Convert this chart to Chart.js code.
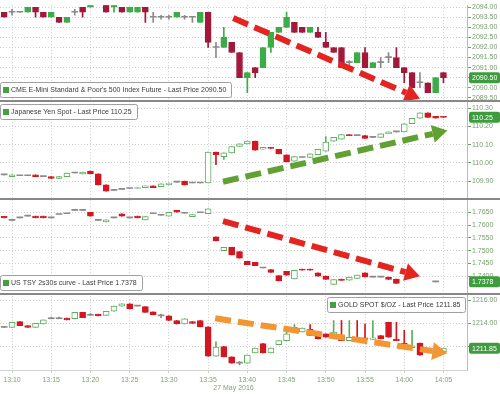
<!DOCTYPE html>
<html>
<head>
<meta charset="utf-8">
<script src="https://cdn.jsdelivr.net/npm/chart.js@4.4.1/dist/chart.umd.min.js"></script>
<style>
  html, body { margin: 0; padding: 0; background: #fff; }
</style>
</head>
<body>
<canvas id="canvas" width="500" height="395"></canvas>
<script>
// one-minute bars, 27 May 2016, four stacked panels sharing the time axis

const times = ['13:09','13:10','13:11','13:12','13:13','13:14','13:15','13:16','13:17','13:18',
  '13:19','13:20','13:21','13:22','13:23','13:24','13:25','13:26','13:27','13:28',
  '13:29','13:30','13:31','13:32','13:33','13:34','13:35','13:36','13:37','13:38',
  '13:39','13:40','13:41','13:42','13:43','13:44','13:45','13:46','13:47','13:48',
  '13:49','13:50','13:51','13:52','13:53','13:54','13:55','13:56','13:57','13:58',
  '13:59','14:00','14:01','14:02','14:03','14:04','14:05'];

const xTickLabels = ['13:10','13:15','13:20','13:25','13:30','13:35','13:40','13:45','13:50','13:55','14:00','14:05'];

const spxTicks = ['2089.50','2090.00','2090.50','2091.00','2091.50','2092.00','2092.50','2093.00','2093.50','2094.00'];
const jpyTicks = ['109.90','110.00','110.10','110.20','110.30'];
const tsyTicks = ['1.7400','1.7450','1.7500','1.7550','1.7600','1.7650'];
const xauTicks = ['1212.00','1214.00','1216.00'];

// [open, high, low, close]
const spx = [
  [2093.75,2093.75,2093.50,2093.50],[2093.75,2093.90,2093.60,2093.75],[2093.75,2093.75,2093.75,2093.75],
  [2093.75,2094.00,2093.75,2094.00],[2094.00,2094.00,2093.50,2093.75],[2093.75,2093.75,2093.50,2093.50],
  [2093.50,2093.75,2093.50,2093.75],[2093.50,2093.50,2093.25,2093.25],[2093.25,2093.50,2093.25,2093.50],
  [2093.75,2093.90,2093.60,2093.75],[2094.00,2094.00,2093.50,2093.75],[2094.00,2094.25,2094.00,2094.25],
  [2094.50,2094.50,2094.25,2094.25],[2094.25,2094.25,2093.75,2093.75],[2094.00,2094.25,2093.75,2094.25],
  [2094.00,2094.00,2093.75,2093.75],[2093.75,2094.00,2093.75,2094.00],[2093.75,2094.00,2093.75,2094.00],
  [2094.00,2094.00,2093.25,2093.75],[2093.50,2093.75,2093.25,2093.50],[2093.50,2093.60,2093.40,2093.50],
  [2093.50,2093.60,2093.40,2093.50],[2093.50,2093.75,2093.50,2093.75],[2093.50,2093.60,2093.40,2093.50],
  [2093.50,2093.50,2093.25,2093.50],[2093.25,2093.75,2093.25,2093.75],[2093.75,2093.75,2092.00,2092.25],
  [2092.00,2092.25,2091.50,2092.00],[2092.00,2093.00,2092.00,2092.50],[2092.25,2092.25,2091.75,2091.75],
  [2091.75,2091.75,2090.50,2090.50],[2090.50,2090.75,2089.75,2090.75],[2091.00,2091.00,2090.50,2090.75],
  [2091.00,2092.00,2091.00,2092.00],[2092.00,2092.75,2091.75,2092.75],[2092.75,2093.00,2092.75,2093.00],
  [2093.00,2093.75,2093.00,2093.50],[2093.25,2093.25,2092.75,2092.75],[2093.00,2093.00,2092.75,2092.75],
  [2092.75,2093.00,2092.75,2093.00],[2092.75,2093.00,2092.50,2092.50],[2092.25,2092.75,2092.00,2092.00],
  [2092.00,2092.00,2091.75,2091.75],[2092.00,2092.00,2091.00,2091.00],[2091.25,2091.35,2091.15,2091.25],
  [2091.25,2091.75,2091.25,2091.75],[2091.75,2092.00,2091.00,2091.00],[2091.00,2091.25,2091.00,2091.25],
  [2091.25,2091.50,2091.00,2091.25],[2091.50,2091.75,2091.25,2091.50],[2091.50,2092.00,2091.00,2091.00],
  [2091.00,2091.00,2090.25,2090.75],[2090.75,2090.75,2090.00,2090.00],[2090.25,2090.75,2090.00,2090.25],
  [2090.25,2090.25,2089.75,2089.75],[2089.75,2090.50,2089.75,2090.50],[2090.75,2090.75,2090.25,2090.50]
];

const jpy = [
  [109.935,109.935,109.935,109.935],[109.925,109.935,109.925,109.935],[109.930,109.930,109.930,109.930],
  [109.930,109.930,109.930,109.930],[109.935,109.935,109.925,109.925],[109.925,109.925,109.925,109.925],
  [109.925,109.925,109.915,109.915],[109.915,109.925,109.915,109.925],[109.925,109.945,109.925,109.945],
  [109.945,109.945,109.945,109.945],[109.940,109.950,109.940,109.950],[109.955,109.955,109.940,109.940],
  [109.940,109.940,109.880,109.880],[109.880,109.880,109.845,109.845],[109.850,109.850,109.850,109.850],
  [109.855,109.855,109.855,109.855],[109.860,109.860,109.860,109.860],[109.860,109.865,109.860,109.865],
  [109.865,109.875,109.865,109.875],[109.875,109.875,109.865,109.865],[109.870,109.885,109.870,109.885],
  [109.880,109.890,109.880,109.890],[109.895,109.895,109.895,109.895],[109.900,109.900,109.880,109.880],
  [109.890,109.890,109.890,109.890],[109.890,109.890,109.890,109.890],[109.890,110.060,109.890,110.060],
  [110.060,110.060,109.990,110.045],[110.035,110.055,110.020,110.055],[110.055,110.090,110.055,110.090],
  [110.090,110.105,110.090,110.105],[110.105,110.120,110.105,110.120],[110.120,110.120,110.070,110.070],
  [110.075,110.085,110.075,110.085],[110.085,110.085,110.080,110.080],[110.075,110.075,110.050,110.050],
  [110.045,110.045,110.005,110.005],[110.010,110.035,110.010,110.035],[110.030,110.030,110.030,110.030],
  [110.030,110.050,110.030,110.050],[110.045,110.075,110.045,110.075],[110.065,110.145,110.065,110.115],
  [110.120,110.140,110.120,110.140],[110.130,110.155,110.130,110.155],[110.155,110.155,110.150,110.150],
  [110.150,110.150,110.150,110.150],[110.150,110.150,110.135,110.135],[110.140,110.140,110.140,110.140],
  [110.140,110.160,110.140,110.160],[110.160,110.170,110.160,110.170],[110.170,110.170,110.170,110.170],
  [110.170,110.215,110.170,110.215],[110.215,110.245,110.215,110.245],[110.245,110.275,110.245,110.275],
  [110.275,110.275,110.250,110.250],[110.255,110.255,110.245,110.245],[110.255,110.255,110.250,110.250]
];

const tsy = [
  [1.7634,1.7634,1.7628,1.7628],[1.7618,1.7618,1.7618,1.7618],[1.7628,1.7628,1.7628,1.7628],
  [1.7635,1.7635,1.7635,1.7635],[1.7635,1.7635,1.7628,1.7628],[1.7635,1.7635,1.7628,1.7628],
  [1.7628,1.7628,1.7628,1.7628],[1.7641,1.7641,1.7641,1.7641],[1.7644,1.7644,1.7644,1.7644],
  [1.7657,1.7657,1.7657,1.7657],[1.7657,1.7657,1.7657,1.7657],[1.7650,1.7650,1.7635,1.7635],
  [1.7618,1.7618,1.7618,1.7618],[1.7612,1.7620,1.7612,1.7620],[1.7628,1.7628,1.7628,1.7628],
  [1.7644,1.7644,1.7635,1.7635],[1.7628,1.7628,1.7628,1.7628],[1.7635,1.7635,1.7628,1.7628],
  [1.7620,1.7633,1.7620,1.7633],[1.7644,1.7644,1.7644,1.7644],[1.7638,1.7638,1.7638,1.7638],
  [1.7635,1.7650,1.7635,1.7650],[1.7657,1.7657,1.7650,1.7650],[1.7646,1.7646,1.7646,1.7646],
  [1.7633,1.7641,1.7633,1.7641],[1.7648,1.7648,1.7648,1.7648],[1.7644,1.7663,1.7644,1.7663],
  [1.7554,1.7554,1.7538,1.7538],[1.7500,1.7513,1.7500,1.7513],[1.7513,1.7513,1.7483,1.7483],
  [1.7496,1.7496,1.7470,1.7470],[1.7458,1.7458,1.7445,1.7445],[1.7454,1.7454,1.7441,1.7441],
  [1.7432,1.7432,1.7432,1.7432],[1.7426,1.7426,1.7415,1.7415],[1.7402,1.7402,1.7381,1.7381],
  [1.7419,1.7419,1.7404,1.7404],[1.7389,1.7423,1.7389,1.7423],[1.7428,1.7428,1.7423,1.7423],
  [1.7428,1.7428,1.7423,1.7423],[1.7413,1.7413,1.7400,1.7400],[1.7400,1.7400,1.7387,1.7387],
  [1.7368,1.7387,1.7368,1.7387],[1.7389,1.7389,1.7383,1.7383],[1.7384,1.7396,1.7384,1.7396],
  [1.7391,1.7404,1.7391,1.7404],[1.7413,1.7413,1.7397,1.7397],[1.7396,1.7396,1.7396,1.7396],
  [1.7396,1.7396,1.7396,1.7396],[1.7396,1.7396,1.7387,1.7387],[1.7389,1.7389,1.7372,1.7372],
  null, null, null, null, [1.7378,1.7378,1.7378,1.7378], null
];

const xau = [
  [1213.65,1213.65,1213.65,1213.65],[1213.65,1214.10,1213.65,1214.10],[1214.15,1214.15,1213.80,1213.80],
  [1213.80,1213.80,1213.65,1213.65],[1213.65,1214.00,1213.65,1214.00],[1213.95,1214.30,1213.95,1214.30],
  [1214.40,1214.55,1214.40,1214.40],[1214.40,1214.55,1214.40,1214.40],[1214.45,1214.45,1214.30,1214.30],
  [1214.40,1214.95,1214.40,1214.95],[1214.95,1214.95,1214.50,1214.50],[1214.70,1214.85,1214.70,1214.70],
  [1214.80,1214.80,1214.65,1214.65],[1214.70,1215.05,1214.70,1215.05],[1215.05,1215.50,1215.05,1215.50],
  [1215.50,1215.70,1215.50,1215.70],[1215.70,1215.70,1215.25,1215.25],[1215.50,1215.50,1215.50,1215.50],
  [1215.45,1215.45,1214.95,1214.95],[1215.00,1215.00,1214.75,1214.75],[1214.65,1214.80,1214.50,1214.65],
  [1214.65,1214.65,1214.25,1214.25],[1214.25,1214.25,1213.95,1213.95],[1213.95,1214.40,1213.95,1214.40],
  [1214.15,1214.15,1214.00,1214.00],[1214.25,1214.25,1213.70,1213.70],[1213.70,1213.70,1211.15,1211.15],
  [1211.15,1212.40,1211.15,1211.95],[1212.00,1212.00,1211.10,1211.10],[1211.10,1211.10,1210.55,1210.55],
  [1210.55,1210.70,1210.40,1210.55],[1210.55,1211.25,1210.55,1211.25],[1211.45,1211.85,1211.45,1211.85],
  [1212.25,1212.25,1211.45,1211.45],[1211.45,1211.85,1211.45,1211.85],[1212.15,1212.50,1212.15,1212.50],
  [1212.50,1213.70,1212.50,1213.10],[1213.25,1213.90,1213.25,1213.65],[1213.25,1213.60,1213.25,1213.60],
  [1213.50,1213.90,1212.95,1212.95],[1213.10,1213.10,1212.65,1212.65],[1213.10,1213.10,1212.80,1212.80],
  [1212.95,1214.25,1212.95,1213.25],[1212.95,1214.25,1212.50,1212.50],[1212.50,1214.25,1212.50,1212.80],
  [1212.80,1214.25,1212.60,1212.60],[1212.75,1213.95,1212.60,1212.60],[1212.60,1214.25,1212.60,1212.75],
  [1212.95,1212.95,1212.65,1212.65],[1214.10,1214.10,1212.80,1212.80],[1212.65,1214.10,1212.50,1212.50],
  [1212.30,1213.40,1211.85,1211.85],[1211.90,1213.40,1211.90,1212.05],[1212.30,1212.30,1211.25,1211.25],
  [1211.50,1211.80,1211.50,1211.80],[1211.40,1211.65,1211.40,1211.65],[1211.55,1211.85,1211.55,1211.85]
];

// hand-drawn trend arrows: [minutes after 13:00, price]
const arrows = [
  { axis: 'y1', from: [38.2, 2093.46], to: [62.0, 2089.45], color: '#e3241f' },
  { axis: 'y2', from: [36.9, 109.897], to: [65.5, 110.178], color: '#61a032' },
  { axis: 'y3', from: [36.9, 1.7615], to: [62.0, 1.7400], color: '#e3241f' },
  { axis: 'y4', from: [35.9, 1214.44], to: [65.5, 1211.41], color: '#f29633' }
];

const toMin = t => { const [h, m] = t.split(':').map(Number); return h * 60 + m - 780; };
const mins = times.map(toMin);

const FONT = "'Liberation Sans', Arial, sans-serif";
Chart.defaults.font.family = FONT;
Chart.defaults.font.size = 7;

const panels = [
  { id: 'y1', rows: spx, min: 2089.35, max: 2094.10, weight: 97, ticks: spxTicks, dec: 2,
    name: "CME E-Mini Standard & Poor's 500 Index Future", corner: 'bl',
    up: '#3aac48', upLine: '#3aac48', down: '#a3173a' },
  { id: 'y2', rows: jpy, min: 109.80, max: 110.3405, weight: 100, ticks: jpyTicks, dec: 2,
    name: 'Japanese Yen Spot', corner: 'tl', up: '#ffffff', upLine: '#5fae5f', down: '#d3161f' },
  { id: 'y3', rows: tsy, min: 1.7330, max: 1.7700, weight: 96, ticks: tsyTicks, dec: 4,
    name: 'US TSY 2s30s curve', corner: 'bl', up: '#ffffff', upLine: '#5fae5f', down: '#d3161f' },
  { id: 'y4', rows: xau, min: 1209.96, max: 1216.54, weight: 77, ticks: xauTicks, dec: 2,
    name: 'GOLD SPOT $/OZ', corner: 'tr', up: '#ffffff', upLine: '#5fae5f', down: '#d3161f' }
];

function candleSets(p) {
  const wick = [], wickCol = [], body = [], fill = [], line = [], bw = [];
  p.rows.forEach((r, i) => {
    if (!r) return;
    const [o, h, l, c] = r;
    const dir = c > o ? 'up' : (c < o ? 'down' : 'flat');
    const col = dir === 'up' ? p.upLine : (dir === 'down' ? p.down : '#8a8a8a');
    wick.push({ x: mins[i], y: [l, h] });
    wickCol.push(col);
    body.push({ x: mins[i], y: [Math.min(o, c), Math.max(o, c)] });
    fill.push(dir === 'up' ? p.up : col);
    line.push(col);
    bw.push(dir === 'flat' ? 0 : 1);
  });
  return [
    { label: p.id + ' wick', data: wick, yAxisID: p.id, backgroundColor: wickCol,
      barThickness: 1, grouped: false, order: 2, borderWidth: 0 },
    { label: p.id + ' body', data: body, yAxisID: p.id, backgroundColor: fill, borderColor: line,
      borderWidth: bw, borderSkipped: false, barThickness: 6, minBarLength: 1, grouped: false, order: 1 }
  ];
}

const datasets = panels.flatMap(candleSets);

const scales = {
  x: {
    type: 'linear', position: 'bottom', min: 8.47, max: 68.0, bounds: 'data',
    offset: false,
    afterBuildTicks: s => { s.ticks = xTickLabels.map(t => ({ value: toMin(t) })); },
    afterFit: s => { s.height = 25; },
    ticks: { autoSkip: false, maxRotation: 0, color: '#86a07a', padding: 3,
      callback: (v, i) => xTickLabels[i] },
    grid: { offset: false, color: '#cdcdcd', tickColor: '#c8d4c0', tickLength: 3 },
    border: { color: '#d2d2d2', dash: [1, 2] },
    title: { display: true, text: '27 May 2016', color: '#86a07a', font: { size: 7 }, padding: { top: 0, bottom: 3 } }
  }
};

panels.forEach(p => {
  scales[p.id] = {
    type: 'linear', position: 'right', stack: 'panels', stackWeight: p.weight,
    min: p.min, max: p.max, bounds: 'data',
    afterBuildTicks: s => { s.ticks = p.ticks.map(t => ({ value: parseFloat(t) })); },
    afterFit: s => { s.width = 33; },
    ticks: { autoSkip: false, color: '#78a070', padding: 1, callback: (v, i) => p.ticks[i] },
    grid: { color: '#cfcfcf', tickColor: '#6aa66a', tickLength: 4 },
    border: { color: '#a6cca6', dash: [1, 2] }
  };
});

function box(ctx, x, y, w, h, r) {
  ctx.beginPath();
  if (ctx.roundRect) ctx.roundRect(x, y, w, h, r); else ctx.rect(x, y, w, h);
}

function drawArrow(ctx, x1, y1, x2, y2, color) {
  const a = Math.atan2(y2 - y1, x2 - x1);
  const head = 15, half = 9;
  const bx = x2 - head * Math.cos(a), by = y2 - head * Math.sin(a);
  ctx.save();
  ctx.strokeStyle = color;
  ctx.lineWidth = 6;
  ctx.setLineDash([16, 7]);
  ctx.beginPath(); ctx.moveTo(x1, y1); ctx.lineTo(bx, by); ctx.stroke();
  ctx.setLineDash([]);
  ctx.fillStyle = color;
  ctx.beginPath();
  ctx.moveTo(x2, y2);
  ctx.lineTo(bx + half * Math.sin(a), by - half * Math.cos(a));
  ctx.lineTo(bx - half * Math.sin(a), by + half * Math.cos(a));
  ctx.closePath(); ctx.fill();
  ctx.restore();
}

const decor = {
  id: 'decor',
  afterDraw(chart) {
    const ctx = chart.ctx, area = chart.chartArea, xs = chart.scales.x;

    // arrows
    arrows.forEach(ar => {
      const ys = chart.scales[ar.axis];
      drawArrow(ctx, xs.getPixelForValue(ar.from[0]), ys.getPixelForValue(ar.from[1]),
        xs.getPixelForValue(ar.to[0]), ys.getPixelForValue(ar.to[1]), ar.color);
    });

    // panel separators
    ctx.save();
    ctx.strokeStyle = '#888';
    ctx.lineWidth = 2;
    panels.slice(1).forEach(p => {
      const y = Math.round(chart.scales[p.id].top);
      ctx.beginPath(); ctx.moveTo(0, y); ctx.lineTo(chart.width, y); ctx.stroke();
    });
    ctx.restore();

    panels.forEach(p => {
      const ys = chart.scales[p.id];
      const last = p.rows.filter(r => r).slice(-1)[0][3];
      const lastTxt = last.toFixed(p.dec);

      // legend box
      const text = p.name + ' - Last Price ' + lastTxt;
      ctx.save();
      ctx.font = '7px ' + FONT;
      const w = Math.round(ctx.measureText(text).width) + 16, h = 15;
      const left = p.corner === 'tr' ? area.right - 2 - w : 0;
      const top = p.corner[0] === 't' ? Math.round(ys.top) + 3 : Math.round(ys.bottom) - 4 - h;
      ctx.fillStyle = '#fff';
      ctx.strokeStyle = '#a0a0a0';
      ctx.lineWidth = 1;
      box(ctx, left + 0.5, top + 0.5, w, h, 2);
      ctx.fill(); ctx.stroke();
      ctx.fillStyle = '#45a045';
      ctx.fillRect(left + 3, top + 5, 6, 6);
      ctx.fillStyle = '#3a3a3a';
      ctx.textBaseline = 'middle';
      ctx.textAlign = 'left';
      ctx.fillText(text, left + 11, top + h / 2 + 1);

      // last price tag on the axis
      const ty = ys.getPixelForValue(last);
      ctx.fillStyle = '#3e9c3e';
      box(ctx, area.right + 2, ty - 5.5, chart.width - area.right - 2, 11, 2);
      ctx.fill();
      ctx.fillStyle = '#fff';
      ctx.fillText(lastTxt, area.right + 5, ty + 0.5);
      ctx.restore();
    });
  }
};

new Chart(document.getElementById('canvas'), {
  type: 'bar',
  data: { datasets },
  options: {
    responsive: false,
    animation: false,
    events: [],
    layout: { padding: 0 },
    plugins: { legend: { display: false }, tooltip: { enabled: false } },
    scales
  },
  plugins: [decor]
});
</script>
</body>
</html>
